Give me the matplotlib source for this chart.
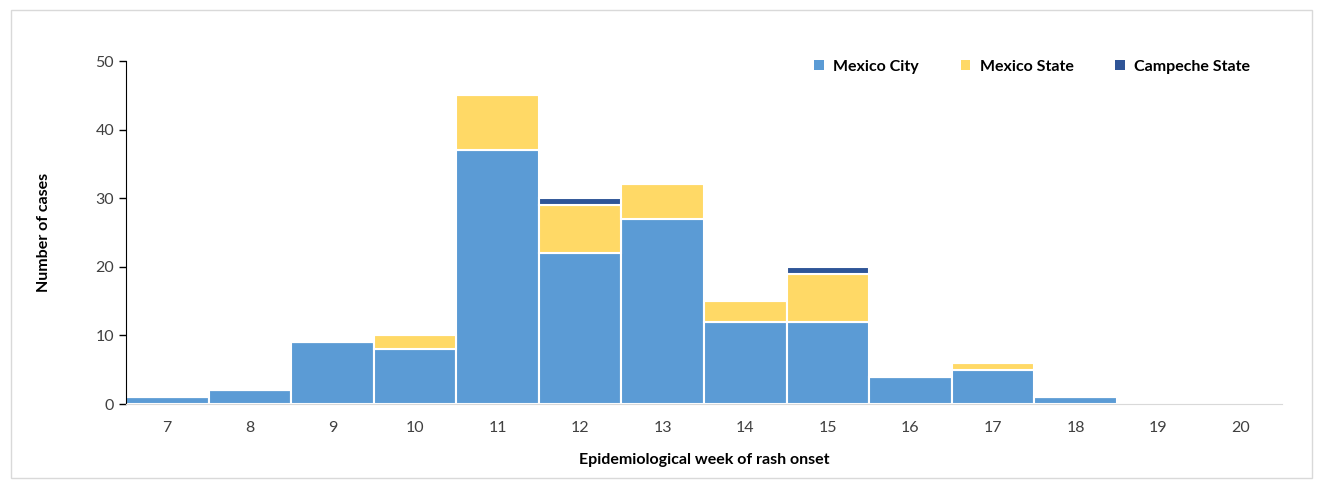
import matplotlib.pyplot as plt
from matplotlib.patches import Rectangle
import numpy as np

plt.rcParams["font.family"] = ["Lato", "DejaVu Sans"]

weeks = ["7", "8", "9", "10", "11", "12", "13", "14", "15", "16", "17", "18", "19", "20"]
mexico_city = [1, 2, 9, 8, 37, 22, 27, 12, 12, 4, 5, 1, 0, 0]
mexico_state = [0, 0, 0, 2, 8, 7, 5, 3, 7, 0, 1, 0, 0, 0]
campeche_state = [0, 0, 0, 0, 0, 1, 0, 0, 1, 0, 0, 0, 0, 0]

c_city = "#5b9bd5"
c_state = "#ffd966"
c_camp = "#2f5597"

fig = plt.figure(figsize=(13.23, 4.82), dpi=100)
ax = fig.add_axes([0.0952, 0.1618, 0.8738, 0.7116])

# light frame around the whole chart
fig.patches.append(Rectangle((0.008, 0.008), 0.984, 0.972, transform=fig.transFigure,
                             fill=False, edgecolor="#d9d9d9", linewidth=1))

x = np.arange(len(weeks))
city = np.array(mexico_city)
state = np.array(mexico_state)
camp = np.array(campeche_state)

ax.bar(x, city, width=1.0, color=c_city, edgecolor="white", linewidth=1.5, label="Mexico City")
ax.bar(x, state, width=1.0, bottom=city, color=c_state, edgecolor="white", linewidth=1.5,
       label="Mexico State")
ax.bar(x, camp, width=1.0, bottom=city + state, color=c_camp, edgecolor="white", linewidth=1.5,
       label="Campeche State")

ax.set_xlim(-0.5, len(weeks) - 0.5)
ax.set_ylim(0, 50)
ax.set_yticks(range(0, 51, 10))
ax.set_xticks(x)
ax.set_xticklabels(weeks)

ax.spines["top"].set_visible(False)
ax.spines["right"].set_visible(False)
ax.spines["left"].set_color("black")
ax.spines["bottom"].set_color("#d9d9d9")
ax.tick_params(axis="y", direction="out", length=5, labelsize=11.5, colors="black",
               labelcolor="#404040", width=1)
ax.tick_params(axis="x", length=0, labelsize=11.5, pad=12, labelcolor="#404040")

ax.set_ylabel("Number of cases", fontsize=11.5, fontweight="bold", labelpad=32)
ax.set_xlabel("Epidemiological week of rash onset", fontsize=11.5, fontweight="bold",
              labelpad=13)

leg = ax.legend(loc="upper right", bbox_to_anchor=(0.985, 1.045), ncol=3, frameon=False,
                prop={"weight": "bold", "size": 11.5}, handlelength=0.6, handleheight=0.6,
                columnspacing=2.6, handletextpad=0.6)
for h in leg.legend_handles:
    h.set_edgecolor("none")

fig.savefig("out.png", dpi=100)
